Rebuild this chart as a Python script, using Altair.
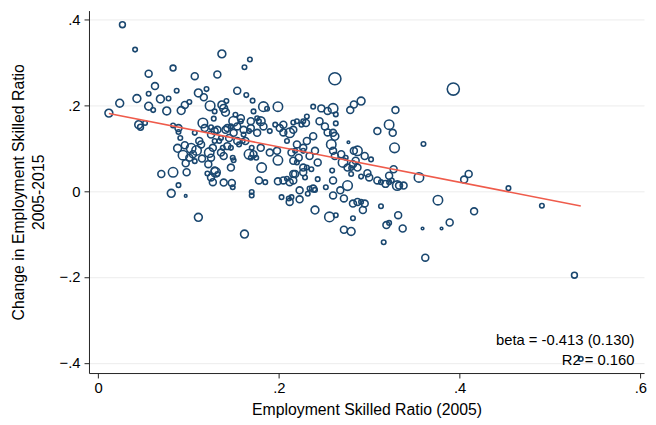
import altair as alt
import pandas as pd

# Employment skilled ratio in 2005 (x), change 2005-2015 (y), employment weight (marker size)
ratio_2005 = [
    0.027, 0.041, 0.137, 0.162, 0.168, 0.056, 0.083, 0.107, 0.132, 0.063,
    0.087, 0.111, 0.120, 0.154, 0.164, 0.056, 0.078, 0.069, 0.043, 0.024,
    0.012, 0.056, 0.061, 0.076, 0.092, 0.096, 0.101, 0.117, 0.124, 0.129,
    0.128, 0.137, 0.139, 0.141, 0.142, 0.152, 0.158, 0.150, 0.045, 0.047,
    0.052, 0.083, 0.089, 0.089, 0.107, 0.116, 0.118, 0.125, 0.129, 0.141,
    0.147, 0.158,
    0.171, 0.183, 0.187, 0.199, 0.172, 0.176, 0.180, 0.183, 0.169, 0.196,
    0.205, 0.220, 0.225, 0.230, 0.231, 0.238, 0.247, 0.254, 0.260, 0.263,
    0.279, 0.283, 0.291, 0.262, 0.245, 0.263, 0.251, 0.227, 0.216, 0.201,
    0.169, 0.178, 0.154, 0.161, 0.167,
    0.176, 0.190, 0.212, 0.216, 0.205, 0.238, 0.231, 0.220, 0.209, 0.214,
    0.227, 0.222, 0.234, 0.258, 0.262, 0.269, 0.271, 0.274, 0.283, 0.198,
    0.199, 0.190, 0.180, 0.172, 0.175, 0.181, 0.178, 0.185, 0.199, 0.209,
    0.212, 0.216, 0.227, 0.229, 0.236, 0.243, 0.238, 0.223, 0.232, 0.252,
    0.260, 0.276, 0.268, 0.280, 0.276, 0.254, 0.260, 0.262, 0.277, 0.260,
    0.240, 0.243, 0.218, 0.216, 0.220, 0.227, 0.227, 0.231, 0.216, 0.205,
    0.218, 0.282, 0.285, 0.287, 0.280, 0.287, 0.295, 0.302, 0.298, 0.300,
    0.291, 0.259, 0.234, 0.240, 0.309, 0.313, 0.318, 0.322, 0.325, 0.331,
    0.327, 0.328, 0.322, 0.309, 0.322, 0.326, 0.329, 0.360, 0.355, 0.333,
    0.338,
    0.083, 0.070, 0.098, 0.089, 0.081, 0.097, 0.111, 0.162, 0.088, 0.096,
    0.091, 0.094, 0.097, 0.103, 0.105, 0.107, 0.109, 0.112, 0.114, 0.115,
    0.101, 0.122, 0.121, 0.125, 0.127, 0.130, 0.125, 0.129, 0.123, 0.127,
    0.125, 0.136, 0.132, 0.134, 0.136, 0.138, 0.139, 0.143, 0.145, 0.147,
    0.149, 0.147, 0.139, 0.148, 0.149, 0.150, 0.154, 0.156, 0.160, 0.161,
    0.163, 0.167, 0.169, 0.170, 0.170, 0.170, 0.143, 0.129, 0.132, 0.150,
    0.203, 0.211, 0.214, 0.212, 0.223, 0.240, 0.256, 0.263, 0.272, 0.280,
    0.282, 0.260, 0.272, 0.282, 0.287, 0.291, 0.295, 0.293, 0.313, 0.319,
    0.322, 0.316, 0.332, 0.337, 0.359, 0.362, 0.380, 0.389, 0.416, 0.376,
    0.405, 0.410, 0.393, 0.454, 0.491, 0.527, 0.534,
]

change_2005_2015 = [
    0.388, 0.330, 0.320, 0.289, 0.307, 0.274, 0.287, 0.268, 0.272, 0.245,
    0.234, 0.229, 0.238, 0.234, 0.224, 0.227, 0.216, 0.215, 0.216, 0.205,
    0.182, 0.198, 0.189, 0.187, 0.188, 0.201, 0.208, 0.219, 0.199, 0.186,
    0.169, 0.201, 0.193, 0.184, 0.210, 0.178, 0.170, 0.163, 0.155, 0.149,
    0.159, 0.153, 0.147, 0.138, 0.136, 0.159, 0.147, 0.149, 0.140, 0.143,
    0.151, 0.163,
    0.211, 0.197, 0.192, 0.197, 0.186, 0.170, 0.163, 0.151, 0.147, 0.155,
    0.155, 0.163, 0.155, 0.159, 0.174, 0.197, 0.193, 0.187, 0.193, 0.179,
    0.189, 0.202, 0.210, 0.262, 0.163, 0.158, 0.151, 0.163, 0.160, 0.147,
    0.163, 0.163, 0.151, 0.143, 0.140,
    0.136, 0.140, 0.136, 0.143, 0.137, 0.128, 0.117, 0.109, 0.117, 0.090,
    0.094, 0.078, 0.082, 0.109, 0.082, 0.086, 0.067, 0.078, 0.094, 0.094,
    0.072, 0.090, 0.101, 0.086, 0.078, 0.055, 0.025, 0.021, 0.023, 0.029,
    0.021, 0.025, 0.044, 0.032, 0.051, 0.028, 0.006, 0.002, -0.006, 0.009,
    0.025, 0.013, 0.002, 0.040, 0.055, 0.137, 0.136, 0.128, 0.114, 0.094,
    0.094, 0.067, 0.094, 0.071, 0.067, 0.101, 0.055, 0.055, 0.040, 0.025,
    0.040, 0.063, 0.071, 0.055, 0.054, 0.094, 0.082, 0.074, 0.042, 0.032,
    0.034, 0.048, 0.006, 0.003, 0.025, 0.021, 0.017, 0.021, 0.025, 0.013,
    0.051, 0.101, 0.036, 0.140, 0.155, 0.136, 0.189, 0.110, 0.032, 0.013,
    0.013,
    0.044, 0.040, 0.044, 0.014, -0.005, -0.011, -0.061, -0.100, 0.100, 0.107,
    0.124, 0.084, 0.065, 0.100, 0.086, 0.070, 0.095, 0.117, 0.109, 0.076,
    0.078, 0.063, 0.041, 0.032, 0.021, 0.044, 0.132, 0.117, 0.090, 0.101,
    0.078, 0.124, 0.143, 0.117, 0.090, 0.101, 0.082, 0.147, 0.124, 0.101,
    0.078, 0.055, 0.020, 0.019, 0.009, 0.136, 0.117, 0.109, 0.117, 0.132,
    0.117, 0.086, 0.078, 0.101, -0.002, -0.010, 0.105, 0.048, 0.040, 0.072,
    -0.014, -0.017, -0.014, -0.025, -0.019, -0.044, -0.060, -0.056, -0.090, -0.094,
    -0.063, -0.010, -0.017, -0.029, -0.025, -0.025, -0.029, -0.044, -0.035, -0.079,
    -0.074, -0.119, -0.056, -0.087, -0.087, -0.155, -0.087, -0.073, -0.047, -0.021,
    0.027, 0.040, 0.238, 0.007, -0.034, -0.196, -0.391,
]

emp_weight = [
    3, 2, 5, 2, 2, 4, 3, 4, 4, 4,
    2, 5, 2, 4, 2, 2, 2, 5, 5, 5,
    5, 5, 2, 5, 5, 4, 2, 4, 8, 2,
    2, 5, 5, 5, 2, 2, 4, 7, 5, 3,
    2, 2, 4, 2, 2, 8, 4, 2, 4, 4,
    2, 2,
    2, 8, 2, 7, 2, 2, 6, 4, 4, 2,
    4, 2, 2, 4, 2, 2, 4, 4, 8, 2,
    4, 4, 5, 27, 4, 2, 4, 2, 2, 4,
    4, 2, 4, 4, 2,
    4, 2, 7, 4, 4, 4, 4, 4, 2, 4,
    2, 4, 4, 7, 4, 4, 7, 2, 4, 4,
    7, 4, 4, 4, 2, 7, 4, 2, 4, 2,
    4, 4, 4, 2, 2, 2, 4, 4, 2, 2,
    4, 8, 4, 2, 4, 4, 4, 5, 1, 4,
    4, 4, 2, 4, 2, 4, 4, 2, 4, 4,
    4, 4, 4, 4, 2, 7, 4, 2, 4, 4,
    2, 2, 2, 2, 4, 2, 4, 2, 2, 7,
    4, 8, 4, 4, 7, 4, 4, 2, 7, 4,
    4,
    7, 4, 4, 2, 5, 1, 5, 5, 5, 4,
    2, 7, 4, 7, 4, 2, 7, 4, 4, 4,
    4, 4, 2, 4, 4, 7, 4, 2, 7, 4,
    4, 2, 4, 2, 4, 2, 4, 4, 4, 2,
    2, 4, 4, 4, 2, 4, 4, 2, 2, 2,
    4, 7, 2, 2, 2, 2, 4, 4, 2, 2,
    2, 2, 2, 4, 4, 5, 8, 2, 4, 5,
    2, 4, 4, 4, 4, 2, 4, 4, 2, 4,
    2, 2, 4, 4, 1, 4, 1, 4, 4, 7,
    4, 4, 27, 2, 2, 3, 2,
]

beta = -0.413
beta_se = 0.130
r2 = 0.160
intercept = 0.186

x_ticks = [0, 0.2, 0.4, 0.6]
y_ticks = [-0.4, -0.2, 0, 0.2, 0.4]

df = pd.DataFrame({"ratio": ratio_2005, "change": change_2005_2015, "weight": emp_weight})
fit = pd.DataFrame({"ratio": [min(ratio_2005), max(ratio_2005)]})
fit["change"] = intercept + beta * fit["ratio"]

FONT = "Liberation Sans"
label_expr = "datum.value == 0 ? '0' : replace(format(datum.value, '.1f'), '0.', '.')"

xscale = alt.Scale(domain=[-0.01, 0.604], nice=False, zero=False)
yscale = alt.Scale(domain=[-0.424, 0.421], nice=False, zero=False)

x_enc = alt.X(
    "ratio:Q", scale=xscale,
    axis=alt.Axis(values=x_ticks, labelExpr=label_expr, grid=False,
                  title="Employment Skilled Ratio (2005)", tickSize=5,
                  labelPadding=3, titlePadding=6),
)
y_enc = alt.Y(
    "change:Q", scale=yscale,
    axis=alt.Axis(values=y_ticks, labelExpr=label_expr, grid=True,
                  gridColor="#ececec", gridWidth=1, labelAngle=0,
                  title=["Change in Employment Skilled Ratio", "2005-2015"],
                  titleLineHeight=20,
                  tickSize=5, labelPadding=4, titlePadding=13),
)

points = alt.Chart(df).mark_point(
    shape="circle", filled=False, color="#1a476f", strokeWidth=1.6, opacity=1
).encode(
    x=x_enc, y=y_enc,
    size=alt.Size("weight:Q",
                  scale=alt.Scale(domain=[0, 1, 2, 4, 7, 27], range=[0, 7, 21, 49, 91, 150]),
                  legend=None),
)

line = alt.Chart(fit).mark_line(color="#ef5b4b", strokeWidth=1.6).encode(
    x=alt.X("ratio:Q", scale=xscale), y=alt.Y("change:Q", scale=yscale)
)

ann = pd.DataFrame({
    "ratio": [0.5935, 0.5935],
    "change": [-0.348, -0.394],
    "label": [f"beta = {beta:.3f} ({beta_se:.3f})", f"R2 = {r2:.3f}"],
})
text = alt.Chart(ann).mark_text(align="right", baseline="middle", font=FONT,
                                fontSize=15, color="#000").encode(
    x=alt.X("ratio:Q", scale=xscale), y=alt.Y("change:Q", scale=yscale), text="label:N"
)

chart = alt.layer(points, line, text).properties(
    width=562, height=367,
    padding={"left": 82, "top": 0, "right": 4, "bottom": 50},
    autosize=alt.AutoSizeParams(type="none"),
    background="white",
).configure_view(stroke=None).configure_axis(
    labelFont=FONT, titleFont=FONT, labelFontSize=15, titleFontSize=16,
    labelColor="#000", titleColor="#000", titleFontWeight="normal",
    domainColor="#222", tickColor="#222", domainWidth=1, tickWidth=1,
)

chart.save("out.html", embed_options={"renderer": "svg", "actions": False})
